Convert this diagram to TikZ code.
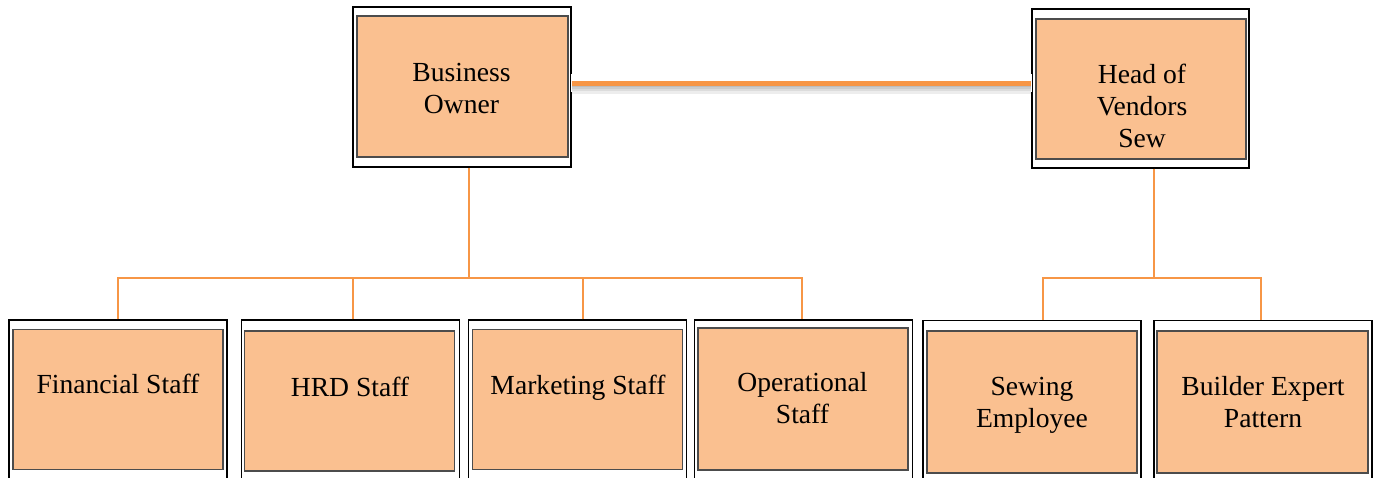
\documentclass[tikz,border=0pt]{standalone}
\usepackage{fontspec}
\setmainfont{Liberation Serif}
\usepackage{xcolor}
\definecolor{boxfill}{HTML}{FAC090}
\definecolor{linkorange}{HTML}{F79646}

\begin{document}
\begin{tikzpicture}[x=0.75pt, y=-0.75pt,
  frame/.style={draw=black, line width=0.8pt, fill=white, minimum width=163.5pt, minimum height=127.5pt, inner sep=0pt},
  card/.style={draw=black!70, line width=1.1pt, fill=boxfill, minimum width=157.5pt, minimum height=105pt, inner sep=0pt},
  lbl/.style={font=\fontsize{20.7}{24}\selectfont, align=center, inner sep=0pt, text=black},
  link/.style={linkorange, line width=1.5pt},
  haze/.style={black, opacity=0.07},
  ]
  \useasboundingbox (0,0) rectangle (1377,478);
  \clip (0,0) rectangle (1377,478);
  % top row
  \node[frame, minimum height=120pt] (boOut) at (462,87) {};
  \node[card, minimum width=158.25pt, minimum height=105.75pt] (boIn) at (462.5,86.5) {};
  \node[frame, minimum width=162.75pt, minimum height=119.25pt] (hvOut) at (1140.5,88.5) {};
  \node[card] (hvIn) at (1141,89) {};
  % bottom row, frames run off the page
  \node[frame] (finOut) at (118,405) {};
  \node[card] (finIn) at (118,399.5) {};
  \node[frame] (hrdOut) at (350.5,405) {};
  \node[card] (hrdIn) at (349.5,401) {};
  \node[frame] (mkOut) at (577.5,405) {};
  \node[card] (mkIn) at (577.5,399.5) {};
  \node[frame] (opOut) at (803.5,405) {};
  \node[card, minimum height=106.5pt] (opIn) at (803,399) {};
  \node[frame] (swOut) at (1032,405.5) {};
  \node[card, minimum height=106.5pt] (swIn) at (1032,402) {};
  \node[frame] (bxOut) at (1263,405.5) {};
  \node[card, minimum width=158.25pt, minimum height=106.5pt] (bxIn) at (1262.5,402) {};
  % link between the two heads
  \draw[white, line width=14pt] ([xshift=-0.5pt, yshift=2.9pt]boOut.east) -- ([xshift=0.5pt, yshift=2.9pt]boOut.east -| hvOut.west);
  \draw[haze, line width=7pt] ([xshift=0.5pt, yshift=-1.6pt]boOut.east) -- ([xshift=-0.5pt, yshift=-1.6pt]boOut.east -| hvOut.west);
  \draw[haze, line width=5pt] ([xshift=0.5pt, yshift=-0.8pt]boOut.east) -- ([xshift=-0.5pt, yshift=-0.8pt]boOut.east -| hvOut.west);
  \draw[haze, line width=3pt] ([xshift=0.5pt, yshift=0pt]boOut.east) -- ([xshift=-0.5pt, yshift=0pt]boOut.east -| hvOut.west);
  \draw[haze, line width=1.5pt] ([xshift=0.5pt, yshift=0.6pt]boOut.east) -- ([xshift=-0.5pt, yshift=0.6pt]boOut.east -| hvOut.west);
  \draw[linkorange, line width=3.8pt] ([yshift=2.9pt]boOut.east) -- ([yshift=2.9pt]boOut.east -| hvOut.west);
  % owner to staff
  \coordinate (busL) at (469,278);
  \coordinate (busR) at (1154,278);
  \draw[link] (busL |- boOut.south) -- (busL);
  \draw[link] (finOut.north) -- (finOut.north |- busL) -- ([xshift=-1pt]opOut.north |- busL) -- ([xshift=-1pt]opOut.north);
  \draw[link] ([xshift=2pt]hrdOut.north) -- ([xshift=2pt]hrdOut.north |- busL);
  \draw[link] ([xshift=4pt]mkOut.north) -- ([xshift=4pt]mkOut.north |- busL);
  % vendor head to workers
  \draw[link] (busR |- hvOut.south) -- (busR);
  \draw[link] ([xshift=8.25pt]swOut.north) -- ([xshift=8.25pt]swOut.north |- busR) -- ([xshift=-1.5pt]bxOut.north |- busR) -- ([xshift=-1.5pt]bxOut.north);
  % labels
  \node[lbl] (boTxt) at (461.5,88) {Business\\Owner};
  \node[lbl] (hvTxt) at (1142,106) {Head of\\Vendors\\Sew};
  \node[lbl] (finTxt) at (118,384) {Financial Staff};
  \node[lbl] (hrdTxt) at (350,386.5) {HRD Staff};
  \node[lbl] (mkTxt) at (578,387.5) {Marketing Staff};
  \node[lbl] (opTxt) at (802.5,398.5) {Operational\\Staff};
  \node[lbl] (swTxt) at (1032,405) {Sewing\\Employee};
  \node[lbl] (bxTxt) at (1263,402.5) {Builder Expert\\Pattern};
\end{tikzpicture}
\end{document}
